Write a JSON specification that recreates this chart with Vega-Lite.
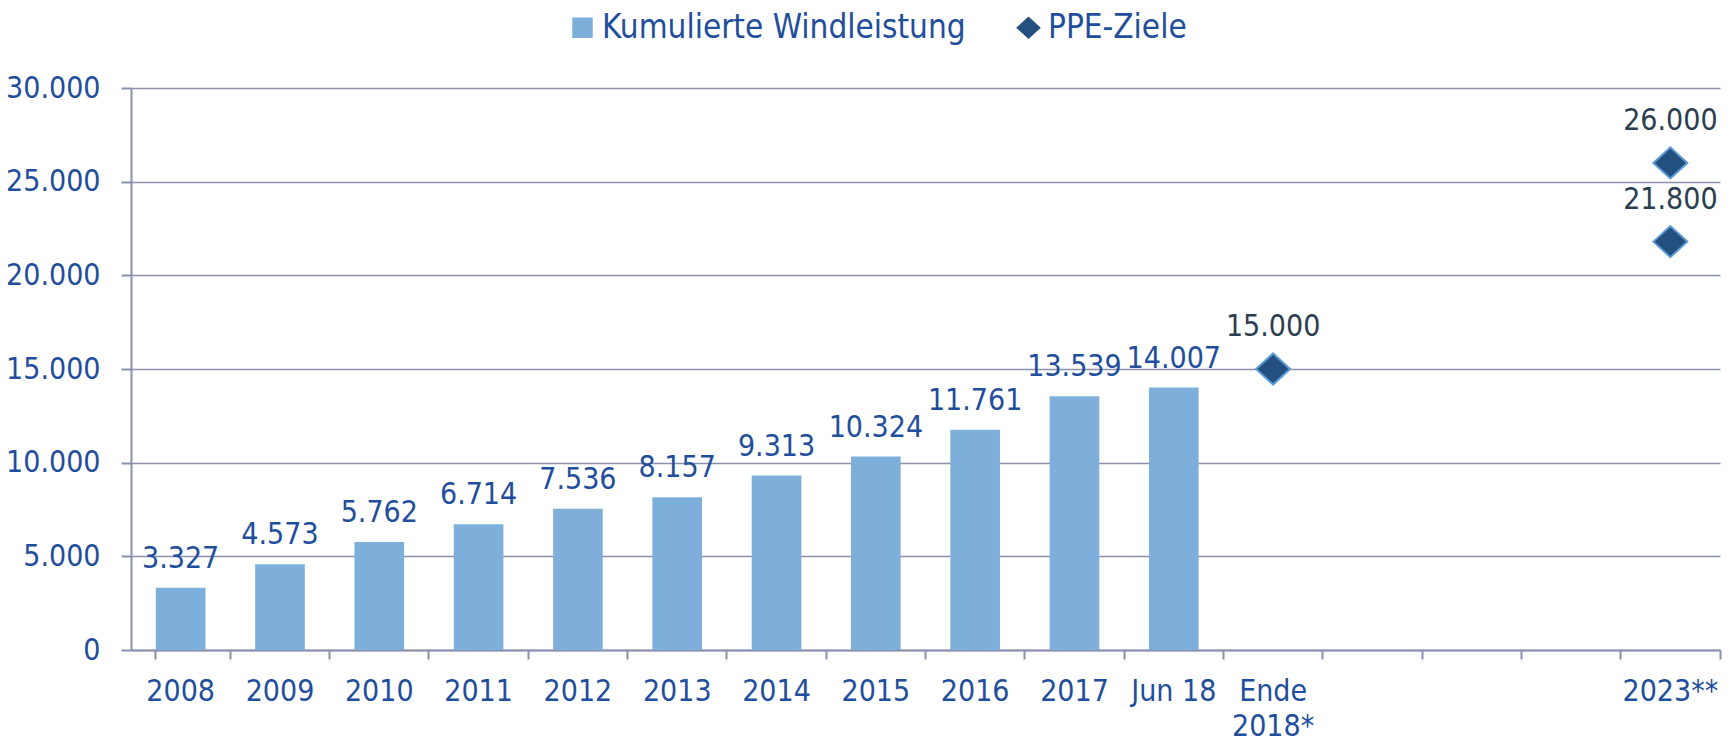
{
  "$schema": "https://vega.github.io/schema/vega-lite/v6.json",
  "width": 1589,
  "height": 562,
  "autosize": "none",
  "padding": {"left": 131, "top": 88, "right": 11, "bottom": 92},
  "background": "white",
  "config": {
    "font": "DejaVu Sans Condensed",
    "view": {"stroke": null},
    "locale": {"number": {"decimal": ",", "thousands": ".", "grouping": [3], "currency": ["", " €"]}}
  },
  "datasets": {
    "bars": [
      {"cat": "2008", "value": 3327, "series": "Kumulierte Windleistung"},
      {"cat": "2009", "value": 4573, "series": "Kumulierte Windleistung"},
      {"cat": "2010", "value": 5762, "series": "Kumulierte Windleistung"},
      {"cat": "2011", "value": 6714, "series": "Kumulierte Windleistung"},
      {"cat": "2012", "value": 7536, "series": "Kumulierte Windleistung"},
      {"cat": "2013", "value": 8157, "series": "Kumulierte Windleistung"},
      {"cat": "2014", "value": 9313, "series": "Kumulierte Windleistung"},
      {"cat": "2015", "value": 10324, "series": "Kumulierte Windleistung"},
      {"cat": "2016", "value": 11761, "series": "Kumulierte Windleistung"},
      {"cat": "2017", "value": 13539, "series": "Kumulierte Windleistung"},
      {"cat": "Jun 18", "value": 14007, "series": "Kumulierte Windleistung"}
    ],
    "ziele": [
      {"cat": "Ende 2018*", "value": 15000, "series": "PPE-Ziele"},
      {"cat": "2023**", "value": 21800, "series": "PPE-Ziele"},
      {"cat": "2023**", "value": 26000, "series": "PPE-Ziele"}
    ]
  },
  "encoding": {
    "x": {
      "field": "cat",
      "type": "nominal",
      "sort": null,
      "scale": {
        "domain": ["2008", "2009", "2010", "2011", "2012", "2013", "2014", "2015", "2016", "2017", "Jun 18", "Ende 2018*", "b1", "b2", "b3", "2023**"],
        "paddingInner": 0.5,
        "paddingOuter": 0.25
      },
      "axis": {
        "title": null,
        "bandPosition": 1.5,
        "tickExtra": true,
        "ticks": true,
        "tickSize": 9,
        "tickWidth": 2,
        "tickColor": "#8a8fae",
        "domainColor": "#8a8fae",
        "domainWidth": 2,
        "labelAngle": 0,
        "labelFont": "DejaVu Sans Condensed",
        "labelFontSize": 30,
        "labelColor": "#1f4e9c",
        "labelPadding": 17,
        "labelLineHeight": 35,
        "labelBaseline": "top",
        "labelExpr": "datum.value == 'Ende 2018*' ? ['Ende', '2018*'] : (indexof(['b1','b2','b3'], datum.value) >= 0 ? '' : datum.value)"
      }
    },
    "y": {
      "field": "value",
      "type": "quantitative",
      "scale": {"domain": [0, 30000], "nice": false},
      "axis": {
        "title": null,
        "values": [0, 5000, 10000, 15000, 20000, 25000, 30000],
        "format": ",d",
        "grid": true,
        "gridColor": "#8a8fae",
        "gridWidth": 1.5,
        "domainColor": "#8a8fae",
        "domainWidth": 2,
        "tickColor": "#8a8fae",
        "tickWidth": 2,
        "tickSize": 10,
        "labelFont": "DejaVu Sans Condensed",
        "labelFontSize": 30,
        "labelColor": "#1f4e9c",
        "labelPadding": 21
      }
    }
  },
  "layer": [
    {
      "data": {"name": "bars"},
      "mark": {"type": "bar"},
      "encoding": {
        "color": {
          "field": "series",
          "type": "nominal",
          "scale": {"domain": ["Kumulierte Windleistung", "PPE-Ziele"], "range": ["#7eafda", "#23507f"]},
          "legend": {
            "orient": "none",
            "legendX": 435,
            "legendY": -77,
            "direction": "horizontal",
            "title": null,
            "labelFont": "DejaVu Sans Condensed",
            "labelFontSize": 33,
            "labelColor": "#1f4e9c",
            "labelLimit": 0,
            "labelOffset": 3,
            "columnPadding": 46,
            "symbolSize": 420,
            "symbolStrokeWidth": 0,
            "padding": 0
          }
        }
      }
    },
    {
      "data": {"name": "bars"},
      "mark": {"type": "text", "baseline": "alphabetic", "dy": -20, "fontSize": 30, "color": "#1f4e9c", "font": "DejaVu Sans Condensed"},
      "encoding": {"text": {"field": "value", "type": "quantitative", "format": ",d"}}
    },
    {
      "data": {"name": "ziele"},
      "mark": {"type": "point", "filled": true, "size": 800, "stroke": "#5b9bd5", "strokeWidth": 2, "opacity": 1},
      "encoding": {
        "color": {"field": "series", "type": "nominal"},
        "shape": {
          "field": "series",
          "type": "nominal",
          "scale": {"domain": ["Kumulierte Windleistung", "PPE-Ziele"], "range": ["square", "M-1.2,0L0,-1.1L1.2,0L0,1.1Z"]}
        }
      }
    },
    {
      "data": {"name": "ziele"},
      "mark": {"type": "text", "baseline": "alphabetic", "dy": -33, "fontSize": 30, "color": "#2b3e50", "font": "DejaVu Sans Condensed"},
      "encoding": {"text": {"field": "value", "type": "quantitative", "format": ",d"}}
    }
  ]
}
